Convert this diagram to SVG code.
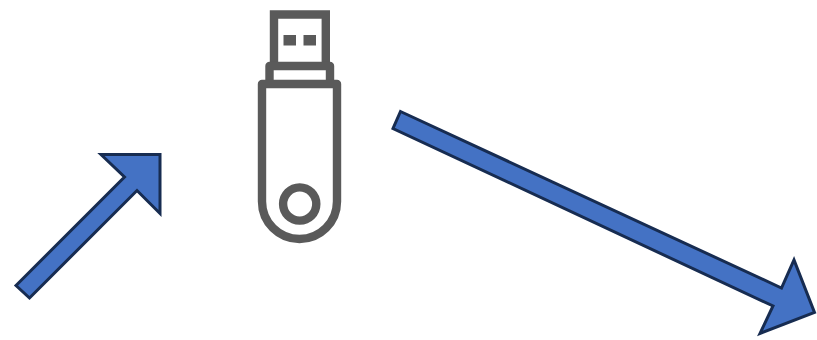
<svg xmlns="http://www.w3.org/2000/svg" width="817" height="340" viewBox="0 0 817 340">
<style>
.arrow{fill:#4472c4;stroke:#172c51;stroke-width:3;stroke-linejoin:miter}
.icon{fill:none;stroke:#5a5a5a;stroke-width:8.4;stroke-linejoin:round}
.dot{fill:#5a5a5a}
</style>
<rect width="817" height="340" fill="#ffffff"/>
<g id="usb-drive">
<path class="icon" style="stroke-linejoin:miter" d="M274 66V14.5H325.8V66"/>
<rect class="dot" x="283.5" y="35" width="12.5" height="10.5"/>
<rect class="dot" x="303.5" y="35" width="12.5" height="10.5"/>
<path class="icon" d="M269.5 84V66H330V84"/>
<path class="icon" d="M262 84H337V201.5A37.5 37.5 0 0 1 262 201.5Z"/>
<circle class="icon" cx="299.7" cy="204" r="16.6"/>
</g>
<g id="connectors">
<polygon id="arrow-in" class="arrow" points="16,285.5 124.5,177 101,154.5 160,154.5 160,213.5 137,190.5 29.5,298"/>
<polygon id="arrow-out" class="arrow" points="400.5,111.5 781.5,288 794,260 814.5,312.5 760,333.5 773,306 393,128.5"/>
</g>
</svg>
